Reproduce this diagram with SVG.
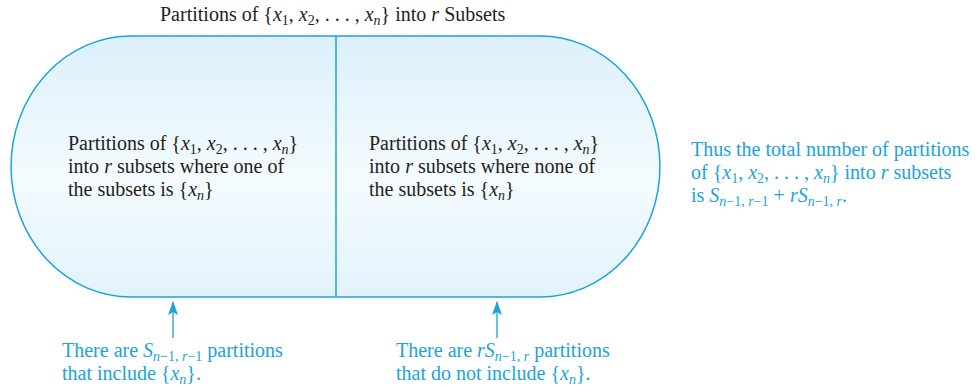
<svg xmlns="http://www.w3.org/2000/svg" width="975" height="387" viewBox="0 0 975 387">
<defs>
<linearGradient id="fillg" x1="0" y1="0" x2="0" y2="1">
<stop offset="0" stop-color="#dcf0fb"/>
<stop offset="0.55" stop-color="#f4fbfe"/>
<stop offset="1" stop-color="#e2f3fc"/>
</linearGradient>
<marker id="ah" viewBox="0 0 14 10" refX="13" refY="5" markerWidth="14" markerHeight="10" markerUnits="userSpaceOnUse" orient="auto">
<path d="M0,0 L14,5 L0,10 L3,5 Z" fill="#1ba3dc"/>
</marker>
</defs>
<style>
text{font-family:"Liberation Serif","Times New Roman",serif;font-size:20px;fill:#231f20}
.blue{fill:#1ba3dc}
.i{font-style:italic}
.sb{font-size:14px}
.ln{stroke:#1ba3dc;stroke-width:1.3;fill:none}
</style>
<rect width="975" height="387" fill="#ffffff"/>
<text x="160" y="21">Partitions of {<tspan class="i">x</tspan><tspan class="sb" dy="4">1</tspan><tspan dy="-4">, </tspan><tspan class="i">x</tspan><tspan class="sb" dy="4">2</tspan><tspan dy="-4">, . . . , </tspan><tspan class="i">x</tspan><tspan class="sb i" dy="4">n</tspan><tspan dy="-4">} into </tspan><tspan class="i">r</tspan> Subsets</text>
<g id="container">
<path d="M131,36 H540 A120,130.5 0 0 1 540,297 H131 A120,130.5 0 0 1 131,36 Z" fill="url(#fillg)" stroke="#1ba3dc" stroke-width="1.5"/>
<line x1="336" y1="36" x2="336" y2="297" stroke="#1ba3dc" stroke-width="1.5"/>
</g>
<g id="left-node">
<text x="68" y="150">Partitions of {<tspan class="i">x</tspan><tspan class="sb" dy="4">1</tspan><tspan dy="-4">, </tspan><tspan class="i">x</tspan><tspan class="sb" dy="4">2</tspan><tspan dy="-4">, . . . , </tspan><tspan class="i">x</tspan><tspan class="sb i" dy="4">n</tspan><tspan dy="-4">}</tspan></text>
<text x="68" y="173">into <tspan class="i">r</tspan> subsets where one of</text>
<text x="68" y="196">the subsets is {<tspan class="i">x</tspan><tspan class="sb i" dy="4">n</tspan><tspan dy="-4">}</tspan></text>
</g>
<g id="right-node">
<text x="369" y="150">Partitions of {<tspan class="i">x</tspan><tspan class="sb" dy="4">1</tspan><tspan dy="-4">, </tspan><tspan class="i">x</tspan><tspan class="sb" dy="4">2</tspan><tspan dy="-4">, . . . , </tspan><tspan class="i">x</tspan><tspan class="sb i" dy="4">n</tspan><tspan dy="-4">}</tspan></text>
<text x="369" y="173">into <tspan class="i">r</tspan> subsets where none of</text>
<text x="369" y="196">the subsets is {<tspan class="i">x</tspan><tspan class="sb i" dy="4">n</tspan><tspan dy="-4">}</tspan></text>
</g>
<g id="total-note">
<text class="blue" x="691" y="156">Thus the total number of partitions</text>
<text class="blue" x="691" y="179">of {<tspan class="i">x</tspan><tspan class="sb" dy="4">1</tspan><tspan dy="-4">, </tspan><tspan class="i">x</tspan><tspan class="sb" dy="4">2</tspan><tspan dy="-4">, . . . , </tspan><tspan class="i">x</tspan><tspan class="sb i" dy="4">n</tspan><tspan dy="-4">} into </tspan><tspan class="i">r</tspan> subsets</text>
<text class="blue" x="691" y="202">is <tspan class="i">S</tspan><tspan class="sb" dy="4"><tspan class="i">n</tspan>−1, <tspan class="i">r</tspan>−1</tspan><tspan dy="-4"> + </tspan><tspan class="i">rS</tspan><tspan class="sb" dy="4"><tspan class="i">n</tspan>−1, <tspan class="i">r</tspan></tspan><tspan dy="-4">.</tspan></text>
</g>
<g id="left-label">
<text class="blue" x="62" y="357">There are <tspan class="i">S</tspan><tspan class="sb" dy="4"><tspan class="i">n</tspan>−1, <tspan class="i">r</tspan>−1</tspan><tspan dy="-4"> partitions</tspan></text>
<text class="blue" x="62" y="380">that include {<tspan class="i">x</tspan><tspan class="sb i" dy="4">n</tspan><tspan dy="-4">}.</tspan></text>
</g>
<g id="right-label">
<text class="blue" x="396" y="357">There are <tspan class="i">rS</tspan><tspan class="sb" dy="4"><tspan class="i">n</tspan>−1, <tspan class="i">r</tspan></tspan><tspan dy="-4"> partitions</tspan></text>
<text class="blue" x="396" y="380">that do not include {<tspan class="i">x</tspan><tspan class="sb i" dy="4">n</tspan><tspan dy="-4">}.</tspan></text>
</g>
<g id="connectors">
<line class="ln" x1="173" y1="338" x2="173" y2="302" marker-end="url(#ah)"/>
<line class="ln" x1="497" y1="338" x2="497" y2="302" marker-end="url(#ah)"/>
</g>
</svg>
